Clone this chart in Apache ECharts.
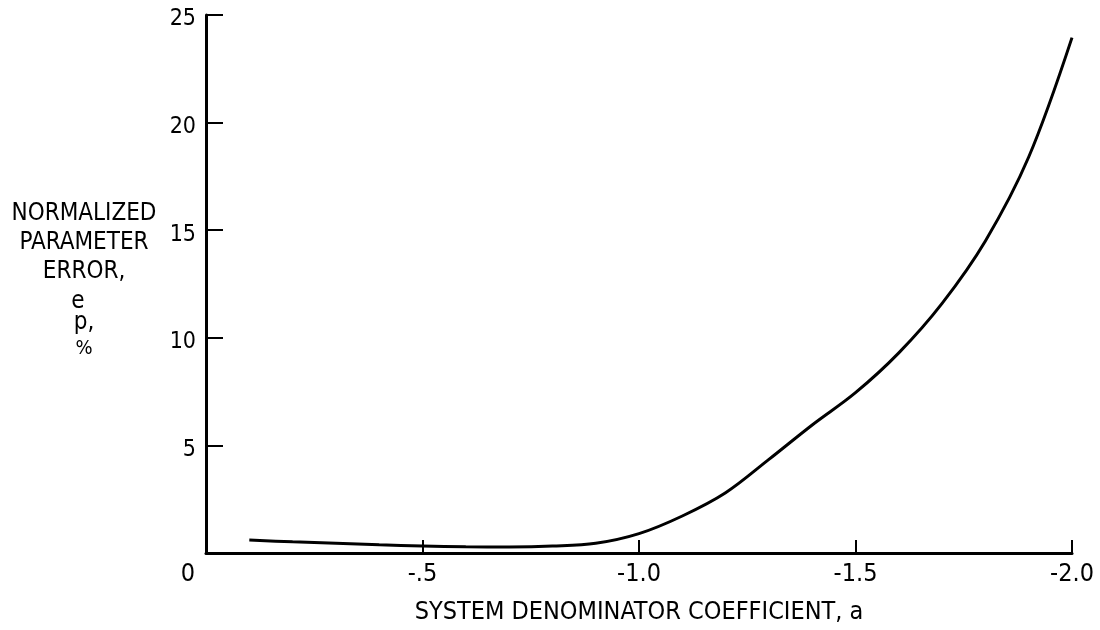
<!DOCTYPE html>
<html>
<head>
<meta charset="utf-8">
<script src="https://cdn.jsdelivr.net/npm/echarts@6/dist/echarts.min.js"></script>
<style>
html,body{margin:0;padding:0;background:#fff;}
#chart{width:1100px;height:630px;}
</style>
</head>
<body>
<div id="chart"></div>
<script>
// Data
const coeffA = [-0.1, -0.2, -0.3, -0.4, -0.5, -0.6, -0.7, -0.8, -0.9, -1.0, -1.1, -1.2, -1.3, -1.4, -1.5, -1.6, -1.7, -1.8, -1.9, -2.0];
const errorPct = [0.6, 0.52, 0.45, 0.38, 0.33, 0.29, 0.28, 0.32, 0.45, 0.9, 1.72, 2.8, 4.35, 5.95, 7.45, 9.3, 11.6, 14.5, 18.4, 23.95];
const xTicks = [0, -0.5, -1.0, -1.5, -2.0];
const xTickLabels = ['0', '-.5', '-1.0', '-1.5', '-2.0'];
const yTicks = [5, 10, 15, 20, 25];
const yTickLabels = ['5', '10', '15', '20', '25'];
const xTitle = 'SYSTEM DENOMINATOR COEFFICIENT, a';
const yTitleLines = ['NORMALIZED', 'PARAMETER', 'ERROR,', 'e', 'p', ',', '%'];

const FONT_C = '"DejaVu Sans Condensed", "DejaVu Sans", sans-serif';
const chart = echarts.init(document.getElementById('chart'), null, {renderer: 'canvas'});

const points = coeffA.map((a, i) => [a, errorPct[i]]);
const yName = '{t|' + yTitleLines[0] + '}\n{t|' + yTitleLines[1] + '}\n{t|' + yTitleLines[2] + '}\n{e|' + yTitleLines[3] + '}\n{p|' + yTitleLines[4] + '}{c|' + yTitleLines[5] + '}\n{pc|' + yTitleLines[6] + '}';

chart.setOption({
  animation: false,
  backgroundColor: '#fff',
  grid: {left: 206, right: 28, top: 15, bottom: 77, containLabel: false, outerBoundsMode: 'none'},
  xAxis: {
    type: 'value',
    inverse: true,
    min: -2,
    max: 0,
    interval: 0.5,
    name: xTitle,
    nameLocation: 'middle',
    nameGap: 47,
    nameMoveOverlap: false,
    nameTextStyle: {fontFamily: FONT_C, fontSize: 25, color: '#000'},
    axisLine: {show: true, onZero: false, lineStyle: {color: '#000', width: 3}},
    axisTick: {show: true, inside: true, length: 13, lineStyle: {color: '#000', width: 2}},
    splitLine: {show: false},
    axisLabel: {
      margin: 9,
      color: '#000',
      fontFamily: FONT_C,
      fontSize: 25,
      formatter: function (v) {
        const i = xTicks.findIndex(t => Math.abs(t - v) < 1e-9);
        const s = i >= 0 ? xTickLabels[i] : '';
        return v === 0 ? '{o|' + s + '}' : s;
      },
      rich: {o: {fontFamily: FONT_C, fontSize: 25, color: '#000', padding: [0, 36, 0, 0]}}
    }
  },
  yAxis: {
    type: 'value',
    min: 0,
    max: 25,
    interval: 5,
    name: yName,
    nameLocation: 'middle',
    nameRotate: 0,
    nameGap: 122,
    nameMoveOverlap: false,
    nameTextStyle: {
      align: 'center',
      verticalAlign: 'middle',
      fontFamily: FONT_C,
      fontSize: 24,
      color: '#000',
      rich: {
        t: {fontFamily: FONT_C, fontSize: 24, lineHeight: 29, color: '#000'},
        e: {fontFamily: FONT_C, fontSize: 24, lineHeight: 30, color: '#000', padding: [0, 12, 0, 0]},
        p: {fontFamily: FONT_C, fontSize: 24, lineHeight: 12, color: '#000'},
        c: {fontFamily: FONT_C, fontSize: 24, lineHeight: 12, color: '#000'},
        pc: {fontFamily: FONT_C, fontSize: 20, lineHeight: 40, color: '#000'}
      }
    },
    axisLine: {show: true, onZero: false, lineStyle: {color: '#000', width: 3}},
    axisTick: {show: true, inside: true, length: 17, lineStyle: {color: '#000', width: 2}},
    splitLine: {show: false},
    axisLabel: {
      margin: 10,
      color: '#000',
      fontFamily: FONT_C,
      fontSize: 23,
      showMinLabel: false,
      formatter: function (v) {
        const i = yTicks.indexOf(v);
        return i >= 0 ? '{v|' + yTickLabels[i] + '}' : '';
      },
      rich: {v: {fontFamily: FONT_C, fontSize: 23, color: '#000', padding: [9, 0, 0, 0]}}
    }
  },
  series: [{
    type: 'line',
    data: points,
    smooth: 0.35,
    symbol: 'none',
    lineStyle: {color: '#000', width: 3},
    z: 3
  }]
});
</script>
</body>
</html>
